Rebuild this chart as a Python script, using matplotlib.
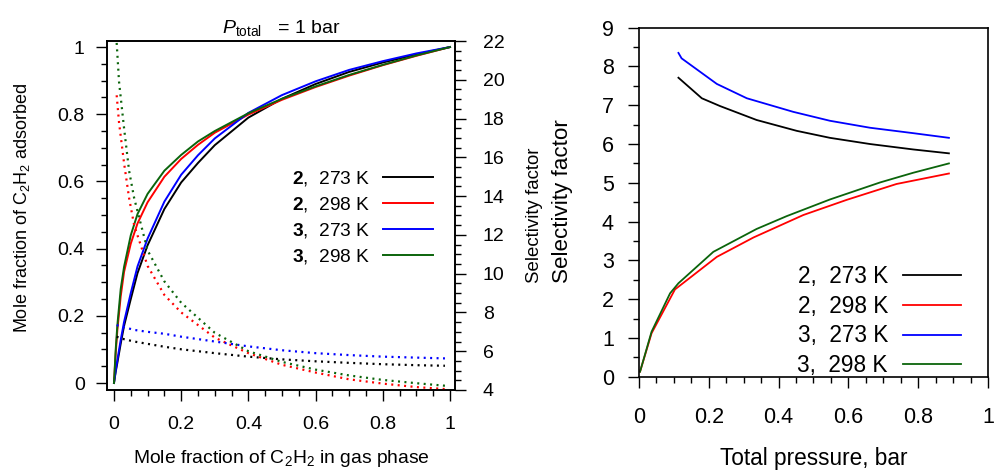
import matplotlib
matplotlib.use("Agg")
import matplotlib.pyplot as plt
from matplotlib.ticker import MultipleLocator, FixedLocator, FixedFormatter

plt.rcParams['font.family'] = ['Liberation Sans', 'DejaVu Sans']
plt.rcParams['mathtext.fontset'] = 'custom'
plt.rcParams['mathtext.rm'] = 'Liberation Sans'
plt.rcParams['mathtext.it'] = 'Liberation Sans:italic'
plt.rcParams['mathtext.bf'] = 'Liberation Sans:bold'

# ---------------- data: left panel ----------------
x_gas = [0, 0.005, 0.01, 0.02, 0.03, 0.05, 0.07, 0.1, 0.15, 0.2, 0.25, 0.3, 0.4, 0.5,
         0.6, 0.7, 0.8, 0.9, 1.0]
ads_2_273 = [0, 0.033, 0.060, 0.117, 0.170, 0.250, 0.327, 0.410, 0.518, 0.597, 0.655,
             0.708, 0.790, 0.846, 0.890, 0.926, 0.954, 0.978, 1.0]
ads_2_298 = [0, 0.087, 0.157, 0.258, 0.331, 0.415, 0.475, 0.538, 0.614, 0.667, 0.709,
             0.745, 0.799, 0.843, 0.881, 0.915, 0.946, 0.974, 1.0]
ads_3_273 = [0, 0.036, 0.068, 0.128, 0.182, 0.268, 0.347, 0.430, 0.540, 0.620, 0.678,
             0.728, 0.804, 0.857, 0.898, 0.932, 0.958, 0.981, 1.0]
ads_3_298 = [0, 0.098, 0.172, 0.280, 0.346, 0.440, 0.503, 0.563, 0.632, 0.679, 0.719,
             0.750, 0.803, 0.846, 0.883, 0.917, 0.947, 0.975, 1.0]

x_sel = [0.008, 0.015, 0.03, 0.045, 0.06, 0.1, 0.15, 0.2, 0.3, 0.4, 0.5, 0.6, 0.7, 0.8,
         0.9, 0.985]
sel_2_273 = [6.75, 6.70, 6.62, 6.56, 6.50, 6.38, 6.23, 6.10, 5.90, 5.72, 5.58, 5.48,
             5.40, 5.33, 5.28, 5.25]
sel_2_298 = [19.2, 17.8, 15.7, 13.9, 12.5, 10.4, 8.9, 8.0, 6.7, 5.9, 5.3, 4.9, 4.55,
             4.33, 4.15, 4.05]
sel_3_273 = [7.35, 7.31, 7.24, 7.17, 7.10, 7.00, 6.90, 6.75, 6.50, 6.25, 6.05, 5.90,
             5.80, 5.72, 5.67, 5.63]
sel_3_298 = [21.9, 19.9, 17.5, 15.3, 13.9, 11.2, 9.6, 8.5, 6.95, 6.0, 5.45, 5.05, 4.75,
             4.52, 4.35, 4.22]

# ---------------- data: right panel ----------------
p_a = [0.113, 0.122, 0.223, 0.309, 0.442, 0.547, 0.662, 0.786, 0.888]
sf_3_273 = [8.35, 8.21, 7.55, 7.18, 6.83, 6.60, 6.42, 6.28, 6.16]
p_b = [0.113, 0.180, 0.232, 0.337, 0.452, 0.547, 0.662, 0.786, 0.888]
sf_2_273 = [7.71, 7.18, 6.98, 6.62, 6.34, 6.16, 6.00, 5.86, 5.76]
p_c = [0.003, 0.036, 0.089, 0.113, 0.213, 0.337, 0.423, 0.547, 0.691, 0.786, 0.888]
sf_3_298 = [0.13, 1.16, 2.15, 2.41, 3.22, 3.81, 4.14, 4.57, 5.01, 5.26, 5.50]
p_d = [0.003, 0.036, 0.103, 0.223, 0.328, 0.471, 0.595, 0.738, 0.888]
sf_2_298 = [0.13, 1.12, 2.25, 3.09, 3.59, 4.17, 4.56, 4.97, 5.24]

labels_left = [r"$\mathbf{2}$,  273 K", r"$\mathbf{2}$,  298 K",
               r"$\mathbf{3}$,  273 K", r"$\mathbf{3}$,  298 K"]
labels_right = ["2,  273 K", "2,  298 K", "3,  273 K", "3,  298 K"]
colors = ['#000000', '#ff0000', '#0000ff', '#0b640b']

frac_ticks = [0, 0.2, 0.4, 0.6, 0.8, 1.0]
frac_labels = ["0", "0.2", "0.4", "0.6", "0.8", "1"]
sel_ticks = [4, 6, 8, 10, 12, 14, 16, 18, 20, 22]
sel_labels = ["4", "6", "8", "10", "12", "14", "16", "18", "20", "22"]
r_yticks = [0, 1, 2, 3, 4, 5, 6, 7, 8, 9]
r_ylabels = ["0", "1", "2", "3", "4", "5", "6", "7", "8", "9"]

W, H = 995, 470
fig = plt.figure(figsize=(W / 100, H / 100), dpi=100)

def fx(px):
    return px / W

def fy(py):
    return (H - py) / H

# ---------------- left panel ----------------
axL = fig.add_axes([fx(107), fy(390), fx(455) - fx(107), fy(41) - fy(390)])
axR2 = axL.twinx()

ads_series = [ads_2_273, ads_2_298, ads_3_273, ads_3_298]
sel_series = [sel_2_273, sel_2_298, sel_3_273, sel_3_298]
handles = []
for ys, lab, c in zip(ads_series, labels_left, colors):
    h, = axL.plot(x_gas, ys, color=c, lw=1.4, label=lab)
    handles.append(h)
for ys, c in zip(sel_series, colors):
    axR2.plot(x_sel, ys, color=c, lw=1.6, linestyle=(0, (0.9, 2.0)),
              dash_capstyle='butt')

axL.set_xlim(-0.0208, 1.0149)
axL.set_ylim(-0.0208, 1.018)
axR2.set_ylim(4, 22)

axL.xaxis.set_major_locator(FixedLocator(frac_ticks))
axL.xaxis.set_major_formatter(FixedFormatter(frac_labels))
axL.xaxis.set_minor_locator(MultipleLocator(0.05))
axL.yaxis.set_major_locator(FixedLocator(frac_ticks))
axL.yaxis.set_major_formatter(FixedFormatter(frac_labels))
axL.yaxis.set_minor_locator(MultipleLocator(0.05))
axR2.yaxis.set_major_locator(FixedLocator(sel_ticks))
axR2.yaxis.set_major_formatter(FixedFormatter(sel_labels))
axR2.yaxis.set_minor_locator(MultipleLocator(0.5))

axL.tick_params(axis='both', which='major', direction='out', length=8, width=1.0,
                labelsize=14, top=False, right=False)
axL.tick_params(axis='both', which='minor', direction='out', length=4, width=1.0,
                top=False, right=False)
axL.tick_params(axis='x', which='major', pad=11)
axL.tick_params(axis='y', which='major', pad=8)
axR2.tick_params(axis='y', which='major', direction='out', length=8, width=1.0,
                 labelsize=14, pad=12)
axR2.tick_params(axis='y', which='minor', direction='out', length=4, width=1.0)
for ax in (axL, axR2):
    for s in ax.spines.values():
        s.set_linewidth(1.2)

axL.set_title(r"$P_{\mathrm{total}}$   = 1 bar", fontsize=14, pad=6)
axL.set_xlabel(r"Mole fraction of C$_\mathregular{2}$H$_\mathregular{2}$ in gas phase",
               fontsize=13.9)
axL.xaxis.set_label_coords(0.5, -0.167)

fig.text(fx(22), fy(208), r"Mole fraction of C$_\mathregular{2}$H$_\mathregular{2}$ adsorbed",
         rotation=90, ha='center', va='center', fontsize=13)

axL.legend(handles=handles, loc='upper right', bbox_to_anchor=(0.937, 0.633),
           frameon=False, fontsize=13.8, markerfirst=False, handlelength=2.6,
           handletextpad=0.68, labelspacing=0.36, borderpad=0, borderaxespad=0)

fig.text(fx(535), fy(283), "Selectivity factor", rotation=90, ha='center', va='bottom',
         fontsize=13.4)
fig.text(fx(563), fy(283), "Selectivity factor", rotation=90, ha='center', va='bottom',
         fontsize=16.1)

# ---------------- right panel ----------------
axP = fig.add_axes([fx(639), fy(376.7), fx(988) - fx(639), fy(27.7) - fy(376.7)])
h1, = axP.plot(p_b, sf_2_273, color=colors[0], lw=1.3, label=labels_right[0])
h2, = axP.plot(p_d, sf_2_298, color=colors[1], lw=1.3, label=labels_right[1])
h3, = axP.plot(p_a, sf_3_273, color=colors[2], lw=1.3, label=labels_right[2])
h4, = axP.plot(p_c, sf_3_298, color=colors[3], lw=1.3, label=labels_right[3])
axP.set_xlim(0, 1)
axP.set_ylim(0, 9)
axP.xaxis.set_major_locator(FixedLocator(frac_ticks))
axP.xaxis.set_major_formatter(FixedFormatter(frac_labels))
axP.xaxis.set_minor_locator(MultipleLocator(0.05))
axP.yaxis.set_major_locator(FixedLocator(r_yticks))
axP.yaxis.set_major_formatter(FixedFormatter(r_ylabels))
axP.yaxis.set_minor_locator(MultipleLocator(0.5))
axP.tick_params(axis='both', which='major', direction='out', length=8, width=1.0,
                labelsize=15.5, top=False, right=False)
axP.tick_params(axis='both', which='minor', direction='out', length=4, width=1.0,
                top=False, right=False)
axP.tick_params(axis='x', which='major', pad=14)
axP.tick_params(axis='y', which='major', pad=10)
for s in axP.spines.values():
    s.set_linewidth(1.2)
axP.set_xlabel("Total pressure, bar", fontsize=16.3)
axP.xaxis.set_label_coords(0.5, -0.2)
axP.legend(handles=[h1, h2, h3, h4], loc='upper right', bbox_to_anchor=(0.922, 0.319),
           frameon=False, fontsize=16.3, markerfirst=False, handlelength=2.57,
           handletextpad=0.65, labelspacing=0.29, borderpad=0, borderaxespad=0)

fig.savefig("out.png", dpi=100)
